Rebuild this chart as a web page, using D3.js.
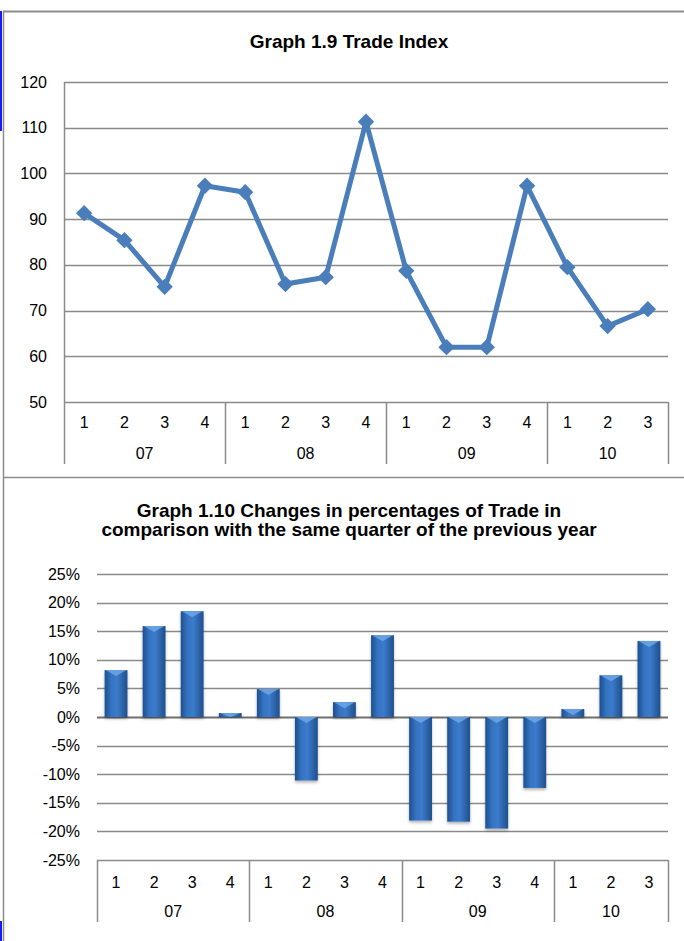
<!DOCTYPE html>
<html>
<head>
<meta charset="utf-8">
<script src="https://cdn.jsdelivr.net/npm/d3@7"></script>
<style>
  body { margin: 0; background: #fff; }
  svg text { font-family: "Liberation Sans", Arial, sans-serif; fill: #000; }
</style>
</head>
<body>
<div id="chart"></div>
<script>
var svgWidth = 684;
var svgHeight = 941;

// data
var quarters = ["1", "2", "3", "4", "1", "2", "3", "4", "1", "2", "3", "4", "1", "2", "3"];
var years = ["07", "08", "09", "10"];
var yearSpans = [4, 4, 4, 3];
var tradeIndex = [91.3, 85.4, 75.2, 97.3, 95.9, 75.8, 77.3, 111.3, 78.7, 62.0, 62.0, 97.3, 79.5, 66.6, 70.3];
var tradeChange = [8.2, 15.9, 18.5, 0.7, 4.9, -11.1, 2.6, 14.3, -18.1, -18.3, -19.5, -12.4, 1.4, 7.3, 13.3];
var indexTicks = [50, 60, 70, 80, 90, 100, 110, 120];
var changeTicks = [-25, -20, -15, -10, -5, 0, 5, 10, 15, 20, 25];

var gridColor = "#8a8a8a";
var lineColor = "#4a7ebb";

var svg = d3.select("#chart")
    .append("svg")
    .attr("width", svgWidth)
    .attr("height", svgHeight);

// frame lines
svg.append("line").attr("x1", 3).attr("x2", svgWidth).attr("y1", 11.5).attr("y2", 11.5)
    .attr("stroke", "#8c8c8c").attr("stroke-width", 2);
svg.append("line").attr("x1", 3.5).attr("x2", 3.5).attr("y1", 11).attr("y2", svgHeight)
    .attr("stroke", "#8c8c8c").attr("stroke-width", 1.5);
svg.append("line").attr("x1", 3).attr("x2", svgWidth).attr("y1", 477.5).attr("y2", 477.5)
    .attr("stroke", "#8c8c8c").attr("stroke-width", 1.5);
// blue edge marks on the left
svg.append("line").attr("x1", 1).attr("x2", 1).attr("y1", 11).attr("y2", 131)
    .attr("stroke", "#1a1aff").attr("stroke-width", 2);
svg.append("line").attr("x1", 1).attr("x2", 1).attr("y1", 921).attr("y2", svgHeight)
    .attr("stroke", "#1a1aff").attr("stroke-width", 2);

// category axis with quarter and year rows
function drawCategoryAxis(g, xScale, yTop, qY, yearY, sepBottom) {
    g.selectAll(".qlabel")
        .data(quarters)
        .enter()
        .append("text")
        .attr("x", (d, i) => xScale(i) + xScale.bandwidth() / 2)
        .attr("y", qY)
        .attr("text-anchor", "middle")
        .attr("dominant-baseline", "central")
        .style("font-size", "16px")
        .text(d => d);

    var start = 0;
    var bounds = [];
    yearSpans.forEach((span, k) => {
        bounds.push({ year: years[k], from: start, to: start + span });
        start += span;
    });

    var step = xScale.step();
    var x0 = xScale.range()[0];

    g.selectAll(".ylabel")
        .data(bounds)
        .enter()
        .append("text")
        .attr("x", d => x0 + step * (d.from + d.to) / 2)
        .attr("y", yearY)
        .attr("text-anchor", "middle")
        .attr("dominant-baseline", "central")
        .style("font-size", "16px")
        .text(d => d.year);

    var seps = [0].concat(bounds.map(d => d.to));
    g.selectAll(".sep")
        .data(seps)
        .enter()
        .append("line")
        .attr("x1", d => Math.round(x0 + step * d) + 0.5)
        .attr("x2", d => Math.round(x0 + step * d) + 0.5)
        .attr("y1", yTop)
        .attr("y2", sepBottom)
        .attr("stroke", gridColor)
        .attr("stroke-width", 1.5);
}

// ---------- Graph 1.9 ----------
var g1 = svg.append("g");

var x1 = d3.scaleBand()
    .domain(d3.range(quarters.length))
    .range([64, 668])
    .padding(0);

var y1 = d3.scaleLinear()
    .domain([50, 120])
    .range([402, 82]);

g1.append("text")
    .attr("x", 349)
    .attr("y", 41)
    .attr("text-anchor", "middle")
    .attr("dominant-baseline", "central")
    .style("font-size", "19px")
    .style("font-weight", "bold")
    .text("Graph 1.9 Trade Index");

g1.selectAll(".grid")
    .data(indexTicks)
    .enter()
    .append("line")
    .attr("x1", 64)
    .attr("x2", 668)
    .attr("y1", d => Math.round(y1(d)) + 0.5)
    .attr("y2", d => Math.round(y1(d)) + 0.5)
    .attr("stroke", gridColor)
    .attr("stroke-width", 1.5);

var leftAxis1 = d3.axisLeft(y1).tickValues(indexTicks).tickSize(0).tickPadding(17);
var ax1 = g1.append("g")
    .attr("transform", "translate(64,0)")
    .call(leftAxis1);
ax1.select(".domain").remove();
ax1.attr("font-size", null).attr("font-family", null);
ax1.selectAll("text").style("font-size", "16px");

g1.append("line")
    .attr("x1", 64.5).attr("x2", 64.5)
    .attr("y1", 82).attr("y2", 402)
    .attr("stroke", gridColor)
    .attr("stroke-width", 1.5);

drawCategoryAxis(g1, x1, 402, 422, 453, 464);

var line = d3.line()
    .x((d, i) => x1(i) + x1.bandwidth() / 2)
    .y(d => y1(d));

g1.append("path")
    .datum(tradeIndex)
    .attr("d", line)
    .attr("fill", "none")
    .attr("stroke", lineColor)
    .attr("stroke-width", 5)
    .attr("stroke-linejoin", "round");

g1.selectAll(".marker")
    .data(tradeIndex)
    .enter()
    .append("path")
    .attr("d", d3.symbol().type(d3.symbolDiamond2).size(170))
    .attr("transform", (d, i) => `translate(${x1(i) + x1.bandwidth() / 2}, ${y1(d)})`)
    .attr("fill", lineColor);

// ---------- Graph 1.10 ----------
var g2 = svg.append("g");

var x2 = d3.scaleBand()
    .domain(d3.range(quarters.length))
    .range([97, 668])
    .paddingInner(0.4)
    .paddingOuter(0.2);

var y2 = d3.scaleLinear()
    .domain([-25, 25])
    .range([860, 574]);

var titleLines = ["Graph 1.10 Changes in percentages of Trade in",
                  "comparison with the same quarter of the previous year"];
g2.selectAll(".title")
    .data(titleLines)
    .enter()
    .append("text")
    .attr("x", 349)
    .attr("y", (d, i) => 510 + i * 19)
    .attr("text-anchor", "middle")
    .attr("dominant-baseline", "central")
    .style("font-size", "19px")
    .style("font-weight", "bold")
    .text(d => d);

var defs = svg.append("defs");
var grad = defs.append("linearGradient")
    .attr("id", "barGrad")
    .attr("x1", "0%").attr("x2", "100%")
    .attr("y1", "0%").attr("y2", "0%");
grad.append("stop").attr("offset", "0%").attr("stop-color", "#1d4f8f");
grad.append("stop").attr("offset", "30%").attr("stop-color", "#3574c2");
grad.append("stop").attr("offset", "55%").attr("stop-color", "#3b7bcb");
grad.append("stop").attr("offset", "100%").attr("stop-color", "#1f4f8c");

var shadow = defs.append("filter").attr("id", "barShadow")
    .attr("x", "-30%").attr("y", "-10%").attr("width", "160%").attr("height", "130%");
shadow.append("feDropShadow")
    .attr("dx", 0).attr("dy", 2).attr("stdDeviation", 1.5)
    .attr("flood-color", "#000").attr("flood-opacity", 0.3);

g2.selectAll(".grid")
    .data(changeTicks)
    .enter()
    .append("line")
    .attr("x1", 97)
    .attr("x2", 668)
    .attr("y1", d => Math.round(y2(d)) + 0.5)
    .attr("y2", d => Math.round(y2(d)) + 0.5)
    .attr("stroke", d => d === 0 ? "#6e6e6e" : gridColor)
    .attr("stroke-width", d => d === 0 ? 2 : 1.5);

var leftAxis2 = d3.axisLeft(y2)
    .tickValues(changeTicks)
    .tickSize(0)
    .tickPadding(17)
    .tickFormat(d => d + "%");
var ax2 = g2.append("g")
    .attr("transform", "translate(97,0)")
    .call(leftAxis2);
ax2.select(".domain").remove();
ax2.attr("font-size", null).attr("font-family", null);
ax2.selectAll("text").style("font-size", "16px");

drawCategoryAxis(g2, x2, 860, 882, 911, 922);

var bars = g2.selectAll(".bar")
    .data(tradeChange)
    .enter()
    .append("g")
    .attr("filter", "url(#barShadow)");

bars.append("rect")
    .attr("x", (d, i) => x2(i))
    .attr("y", d => y2(Math.max(0, d)))
    .attr("width", x2.bandwidth())
    .attr("height", d => Math.abs(y2(d) - y2(0)))
    .attr("fill", "url(#barGrad)");

// light bevel on top of each bar
bars.append("path")
    .attr("d", (d, i) => {
        var x = x2(i);
        var w = x2.bandwidth();
        var top = y2(Math.max(0, d));
        var h = Math.min(6, Math.abs(y2(d) - y2(0)));
        return `M${x + 1},${top} L${x + w - 1},${top} L${x + w / 2},${top + h} Z`;
    })
    .attr("fill", "#6fa6e6")
    .attr("opacity", 0.85);
</script>
</body>
</html>
